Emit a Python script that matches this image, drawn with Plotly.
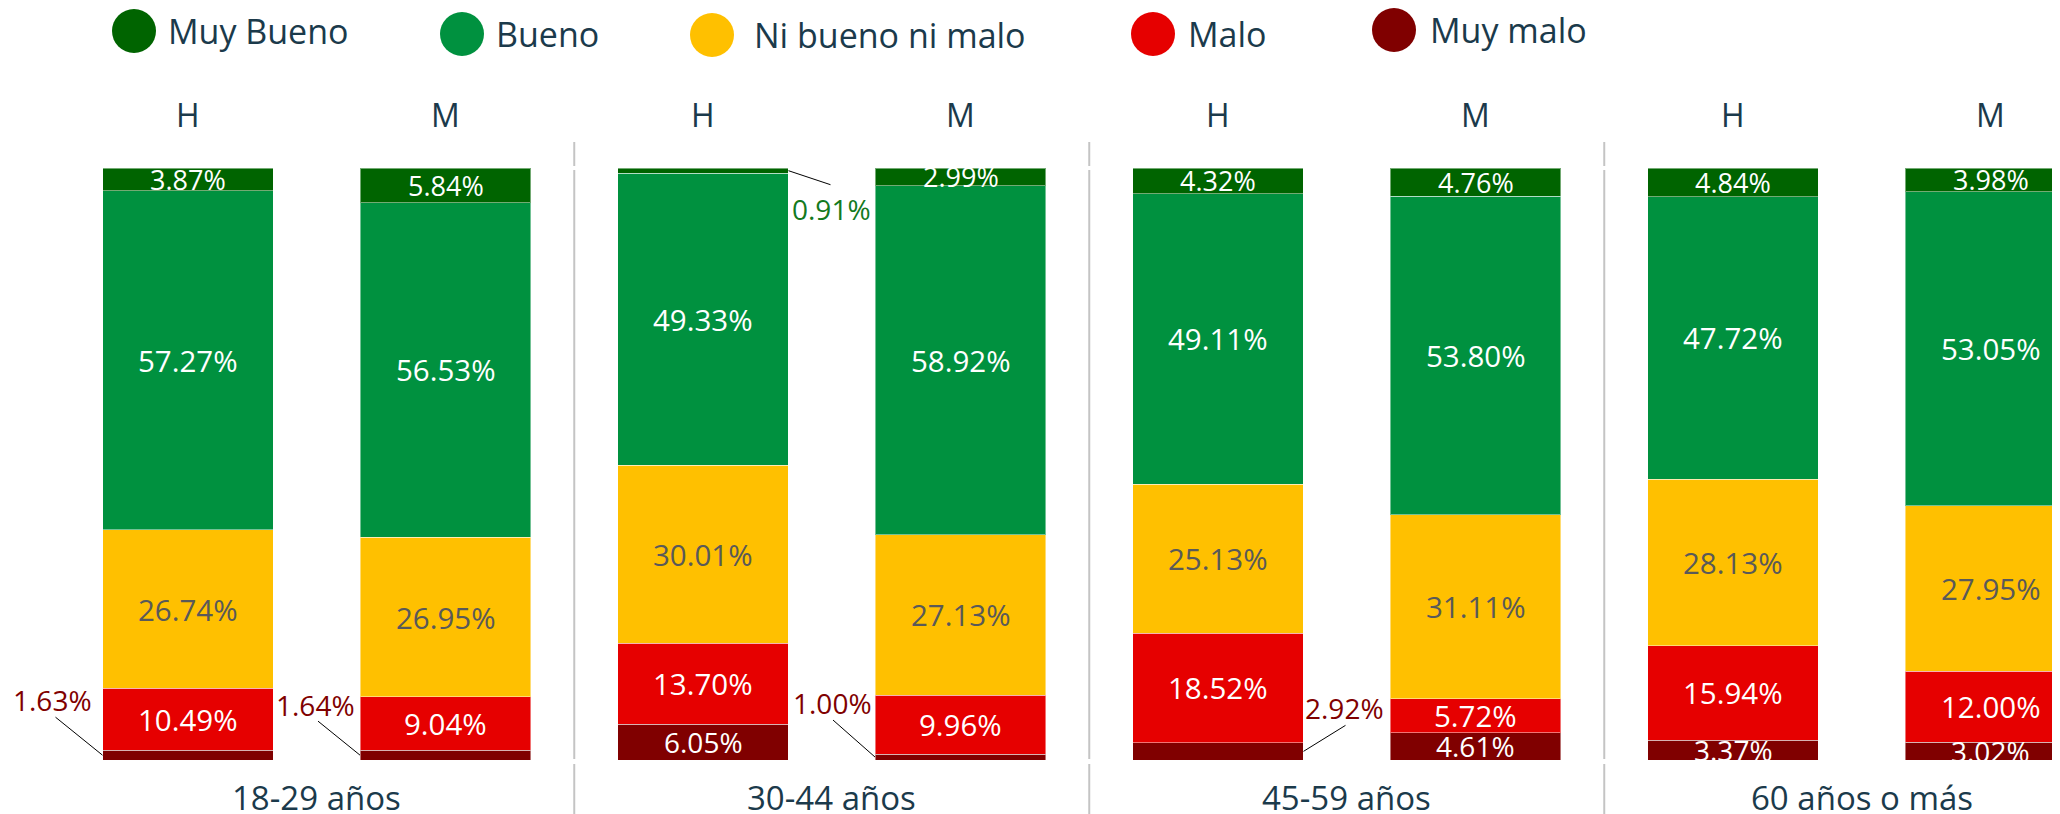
import plotly.graph_objects as go

# ---------------- data ----------------
groups = ["18-29 años", "30-44 años", "45-59 años", "60 años o más"]
sexes = ["H", "M", "H", "M", "H", "M", "H", "M"]
categories = ["Muy Bueno", "Bueno", "Ni bueno ni malo", "Malo", "Muy malo"]

muy_bueno = [3.87, 5.84, 0.91, 2.99, 4.32, 4.76, 4.84, 3.98]
bueno = [57.27, 56.53, 49.33, 58.92, 49.11, 53.80, 47.72, 53.05]
ni_bueno_ni_malo = [26.74, 26.95, 30.01, 27.13, 25.13, 31.11, 28.13, 27.95]
malo = [10.49, 9.04, 13.70, 9.96, 18.52, 5.72, 15.94, 12.00]
muy_malo = [1.63, 1.64, 6.05, 1.00, 2.92, 4.61, 3.37, 3.02]

series = {
    "Muy Bueno": muy_bueno,
    "Bueno": bueno,
    "Ni bueno ni malo": ni_bueno_ni_malo,
    "Malo": malo,
    "Muy malo": muy_malo,
}

# ---------------- style ----------------
W, H = 2060, 814
OFF = 8  # page body margin offset compensation
PLOT_TOP, PLOT_BOTTOM = 168 - OFF, 760 - OFF
PLOT_H = PLOT_BOTTOM - PLOT_TOP
FONT = "Open Sans"
TXT = "#1b3a4b"
colors = {
    "Muy Bueno": "#006400",
    "Bueno": "#00913f",
    "Ni bueno ni malo": "#ffc000",
    "Malo": "#e60000",
    "Muy malo": "#800000",
}
label_colors = {
    "Muy Bueno": "white",
    "Bueno": "white",
    "Ni bueno ni malo": "#595959",
    "Malo": "white",
    "Muy malo": "white",
}
label_sizes = {"Muy Bueno": 27, "Bueno": 29.5, "Ni bueno ni malo": 29.5, "Malo": 29.5, "Muy malo": 28}
BAR_W = 0.664
STEP = 257.5
x_pos = list(range(len(sexes)))

# callouts: (bar index, category) -> side, line end offset (px, screen), text offset (px, screen), colour
callouts = {
    (0, "Muy malo"): ("left", (-47, -38), (-50, -55), "#800000"),
    (1, "Muy malo"): ("left", (-42, -34), (-45, -50), "#800000"),
    (3, "Muy malo"): ("left", (-42, -37), (-43, -54), "#800000"),
    (4, "Muy malo"): ("right", (42, -26), (41, -43), "#800000"),
    (2, "Muy Bueno"): ("right", (42, 14), (43, 38), "#137a1e"),
}

# legend positions (page px): circle centre x, text left x, centre y
legend_pos = {
    "Muy Bueno": (134, 166, 31),
    "Bueno": (462, 494, 34),
    "Ni bueno ni malo": (712, 752, 35),
    "Malo": (1153, 1186, 34),
    "Muy malo": (1394, 1428, 30),
}


def paper_y(px_page):
    return (PLOT_BOTTOM - (px_page - OFF)) / PLOT_H


def paper_x(px_page):
    return (px_page - OFF) / W


fig = go.Figure()

stack_order = ["Muy malo", "Malo", "Ni bueno ni malo", "Bueno", "Muy Bueno"]
base = [0.0] * len(sexes)
annotations = []
shapes = []
for cat in stack_order:
    vals = series[cat]
    fig.add_trace(go.Bar(
        x=x_pos, y=vals, base=base[:], width=BAR_W, name=cat,
        marker=dict(color=colors[cat], line=dict(color="rgba(255,255,255,0.45)", width=1)),
        showlegend=False, hoverinfo="skip",
    ))
    for i, v in enumerate(vals):
        mid = base[i] + v / 2
        txt = f"{v:.2f}%"
        key = (i, cat)
        if key in callouts:
            side, (lx, ly), (tx, ty), col = callouts[key]
            edge = x_pos[i] - BAR_W / 2 if side == "left" else x_pos[i] + BAR_W / 2
            shapes.append(dict(
                type="line", xref="x", yref="y",
                xsizemode="pixel", ysizemode="pixel",
                xanchor=edge, yanchor=mid,
                x0=0, x1=lx, y0=0, y1=-ly,
                line=dict(color="black", width=1),
            ))
            annotations.append(dict(
                x=edge, y=mid, xref="x", yref="y", text=txt, showarrow=False,
                xshift=tx, yshift=-ty, xanchor="center", yanchor="middle",
                font=dict(family=FONT, size=28, color=col),
            ))
        else:
            annotations.append(dict(
                x=x_pos[i], y=mid, xref="x", yref="y", text=txt, showarrow=False,
                xanchor="center", yanchor="middle",
                font=dict(family=FONT, size=label_sizes[cat], color=label_colors[cat]),
            ))
        base[i] += v

# H / M labels above bars
for i, s in enumerate(sexes):
    annotations.append(dict(
        x=x_pos[i], y=paper_y(114), xref="x", yref="paper", text=s, showarrow=False,
        xanchor="center", yanchor="middle", font=dict(family=FONT, size=32, color=TXT),
    ))

# group labels below
for g, name in enumerate(groups):
    annotations.append(dict(
        x=(x_pos[2 * g] + x_pos[2 * g + 1]) / 2, y=paper_y(797), xref="x", yref="paper",
        text=name, showarrow=False, xanchor="center", yanchor="middle",
        font=dict(family=FONT, size=33, color=TXT),
    ))

# separators between groups
for g in range(1, len(groups)):
    xs = (x_pos[2 * g - 1] + x_pos[2 * g]) / 2
    for (a, b) in [(142, 166), (170, 759), (764, 822)]:
        shapes.append(dict(
            type="line", xref="x", yref="paper", x0=xs, x1=xs,
            y0=paper_y(a), y1=paper_y(b), line=dict(color="#c4c4c4", width=2),
        ))

# legend (manual, circle markers)
for cat in categories:
    cx, tx, cy = legend_pos[cat]
    shapes.append(dict(
        type="circle", xref="paper", yref="paper",
        xsizemode="pixel", ysizemode="pixel",
        xanchor=paper_x(cx), yanchor=paper_y(cy),
        x0=-22, x1=22, y0=-22, y1=22,
        fillcolor=colors[cat], line=dict(width=0),
    ))
    annotations.append(dict(
        x=paper_x(tx), y=paper_y(cy), xref="paper", yref="paper", text=cat, showarrow=False,
        xanchor="left", yanchor="middle", font=dict(family=FONT, size=34, color=TXT),
    ))

x_left = x_pos[0] - (188 - OFF) / STEP
x_right = x_left + W / STEP

fig.update_layout(
    width=W, height=H,
    margin=dict(l=0, r=0, t=PLOT_TOP, b=H - PLOT_BOTTOM, pad=0),
    paper_bgcolor="white", plot_bgcolor="white",
    barmode="stack",
    xaxis=dict(range=[x_left, x_right], visible=False, fixedrange=True),
    yaxis=dict(range=[0, 100], visible=False, fixedrange=True),
    annotations=annotations, shapes=shapes,
    showlegend=False,
)

fig.write_html("out.html", config={"displayModeBar": False})
